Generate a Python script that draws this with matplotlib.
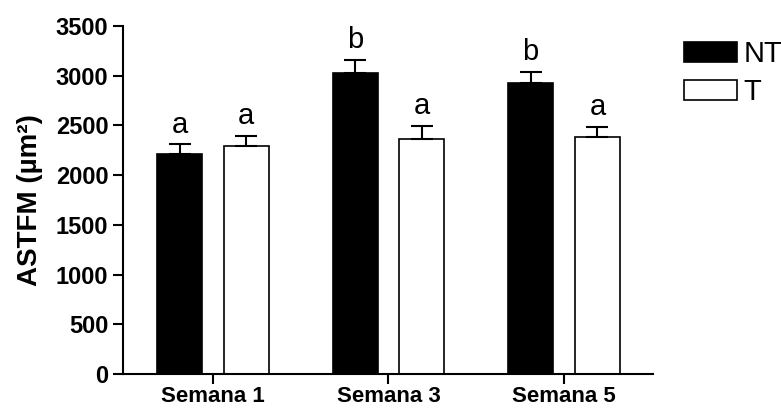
import numpy as np
import matplotlib
matplotlib.use('Agg')
from matplotlib import pyplot as plt

plt.rcParams['font.family'] = ['Liberation Sans', 'DejaVu Sans']

weeks = ['Semana 1', 'Semana 3', 'Semana 5']
nt_mean = [2210, 3031, 2924]
nt_sem = [101, 128, 117]
t_mean = [2297, 2367, 2381]
t_sem = [100, 131, 104]
nt_letters = ['a', 'b', 'b']
t_letters = ['a', 'a', 'a']

x = np.arange(len(weeks))
w = 0.256
off = 0.19

fig = plt.figure(figsize=(7.81, 4.09), dpi=100)
ax = fig.add_axes([0.158, 0.0856, 0.6775, 0.8508])

b1 = ax.bar(x - off, nt_mean, w, color='k', edgecolor='k', lw=1.2, label='NT')
b2 = ax.bar(x + off, t_mean, w, color='w', edgecolor='k', lw=1.2, label='T')
ax.errorbar(x - off, nt_mean, yerr=[np.zeros(3), nt_sem], fmt='none', ecolor='k',
            elinewidth=1.5, capsize=8, capthick=1.5)
ax.errorbar(x + off, t_mean, yerr=[np.zeros(3), t_sem], fmt='none', ecolor='k',
            elinewidth=1.5, capsize=8, capthick=1.5)

for i in range(len(x)):
    ax.text(x[i] - off, nt_mean[i] + nt_sem[i] + 55, nt_letters[i], ha='center', va='bottom', fontsize=21)
    ax.text(x[i] + off, t_mean[i] + t_sem[i] + 55, t_letters[i], ha='center', va='bottom', fontsize=21)

ax.set_xlim(-0.51, 2.504)
ax.set_ylim(0, 3500)
ax.set_yticks(np.arange(0, 3501, 500))
ax.set_xticks(x)
ax.set_xticklabels(weeks, fontsize=16, fontweight='bold')
for lab in ax.get_yticklabels():
    lab.set_fontsize(17)
    lab.set_fontweight('bold')
ax.spines['top'].set_visible(False)
ax.spines['right'].set_visible(False)
ax.spines['left'].set_linewidth(1.5)
ax.spines['bottom'].set_linewidth(1.5)
ax.tick_params(width=1.5, length=7.2)
ax.tick_params(axis='y', pad=3.6)
ax.tick_params(axis='x', pad=1.5)
ax.set_ylabel('ASTFM (µm²)', fontsize=20, fontweight='bold', labelpad=9)

fig.legend(handles=[b1, b2], loc='upper left', bbox_to_anchor=(684 / 781, 1 - 40 / 409),
           frameon=False, fontsize=21, handlelength=1.8, handleheight=0.68,
           handletextpad=0.25, labelspacing=0.35, borderpad=0, borderaxespad=0)

fig.savefig('out.png', dpi=100)
